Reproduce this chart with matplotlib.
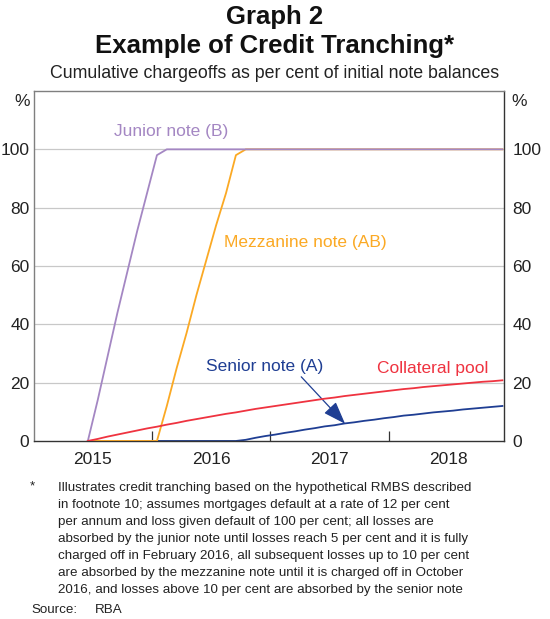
import numpy as np
import matplotlib
matplotlib.use('Agg')
import matplotlib.pyplot as plt
from matplotlib.ticker import FixedLocator, NullFormatter

plt.rcParams['font.family'] = ['Liberation Sans', 'DejaVu Sans']

# monthly observations, June 2015 .. December 2018
start_year, start_month = 2015, 6
n_months = 43

collateral = [0, 0.7, 1.5, 2.2, 2.9, 3.6, 4.3, 4.9, 5.6, 6.2, 6.9, 7.5, 8.1, 8.7,
              9.3, 9.8, 10.4, 11.0, 11.5, 12.0, 12.5, 13.0, 13.5, 14.0, 14.5, 14.9,
              15.4, 15.8, 16.2, 16.6, 17.0, 17.4, 17.8, 18.1, 18.5, 18.8, 19.1, 19.4,
              19.7, 20.0, 20.3, 20.5, 20.8]
junior = [0, 14, 29, 44, 58, 72, 85, 98] + [100] * 35
mezzanine = [0] * 8 + [12, 25, 37, 50, 62, 74, 85, 98] + [100] * 27
senior = [0] * 16 + [0.4, 1.1, 1.7, 2.2, 2.8, 3.3, 3.9, 4.4, 5.0, 5.4, 6.0, 6.4,
                     6.9, 7.3, 7.8, 8.2, 8.7, 9.0, 9.4, 9.8, 10.1, 10.4, 10.8,
                     11.1, 11.4, 11.7, 12.0]

years = [2015, 2016, 2017, 2018]
yticks = [0, 20, 40, 60, 80, 100]

# mid-month positions in fractional years
xx = np.array([start_year + (start_month - 1 + k + 0.5) / 12.0 for k in range(n_months)])

c_purple = '#A487C3'
c_orange = '#FBA924'
c_red = '#EF3340'
c_blue = '#1F3E93'
c_text = '#222222'
fs = 12.5

fig = plt.figure(figsize=(5.5, 6.19), dpi=100)
ax = fig.add_axes([0.061, 0.2876, 0.855, 0.5654])

ax.set_xlim(2015.0, 2018.97)
ax.set_ylim(0, 120)

for v in yticks[1:]:
    ax.axhline(v, color='#C8C8C8', lw=0.9, zorder=0)

ax.plot(xx, senior, color=c_blue, lw=1.3, zorder=2)
ax.plot(xx, mezzanine, color=c_orange, lw=1.3, zorder=3)
ax.plot(xx, junior, color=c_purple, lw=1.3, zorder=4)
ax.plot(xx, collateral, color=c_red, lw=1.3, zorder=5)

# axes frame
for s in ['left', 'top']:
    ax.spines[s].set_color('#7F7F7F')
for s in ['right', 'bottom']:
    ax.spines[s].set_color('#333333')
for s in ax.spines.values():
    s.set_linewidth(1.0)

ax.set_yticks(yticks)
ax.tick_params(axis='y', length=0, labelsize=fs, pad=3, colors=c_text)

# right hand labels sit a bit further from the frame
ax2 = ax.twinx()
ax2.set_ylim(0, 120)
ax2.set_yticks(yticks)
ax2.tick_params(axis='y', length=0, labelsize=fs, pad=6, colors=c_text)
for s in ax2.spines.values():
    s.set_visible(False)

ax.xaxis.set_major_locator(FixedLocator([y + 0.5 for y in years]))
ax.set_xticklabels([str(y) for y in years])
ax.xaxis.set_minor_locator(FixedLocator([2016, 2017, 2018]))
ax.xaxis.set_minor_formatter(NullFormatter())
ax.tick_params(axis='x', which='major', length=0, labelsize=fs, pad=8, colors=c_text)
ax.tick_params(axis='x', which='minor', direction='in', length=7, width=0.9, color='#333333')

ax.text(-0.007, 0.97, '%', transform=ax.transAxes, ha='right', va='center', fontsize=fs, color=c_text)
ax.text(1.016, 0.97, '%', transform=ax.transAxes, ha='left', va='center', fontsize=fs, color=c_text)

# series labels
ax.text(2016.16, 106.2, 'Junior note (B)', color=c_purple, fontsize=fs, ha='center', va='center')
ax.text(2016.61, 68.2, 'Mezzanine note (AB)', color=c_orange, fontsize=fs, ha='left', va='center')
ax.text(2017.90, 25.0, 'Collateral pool', color=c_red, fontsize=fs, ha='left', va='center')
ax.text(2016.46, 25.7, 'Senior note (A)', color=c_blue, fontsize=fs, ha='left', va='center')
ax.annotate('', xy=(2017.63, 5.9), xytext=(2017.26, 22.0),
            arrowprops=dict(arrowstyle='-|>,head_length=0.7,head_width=0.25', color=c_blue, lw=0.9,
                            mutation_scale=20, shrinkA=0, shrinkB=0))

# titles
fig.text(0.5, 1 - 17 / 619, 'Graph 2', ha='center', va='center', fontsize=18.5, fontweight='bold', color='#111111')
fig.text(0.5, 1 - 46 / 619, 'Example of Credit Tranching*', ha='center', va='center', fontsize=18.5, fontweight='bold', color='#111111')
fig.text(0.5, 1 - 74 / 619, 'Cumulative chargeoffs as per cent of initial note balances',
         ha='center', va='center', fontsize=12.8, color=c_text)

# footnote
notes = ['Illustrates credit tranching based on the hypothetical RMBS described',
         'in footnote 10; assumes mortgages default at a rate of 12 per cent',
         'per annum and loss given default of 100 per cent; all losses are',
         'absorbed by the junior note until losses reach 5 per cent and it is fully',
         'charged off in February 2016, all subsequent losses up to 10 per cent',
         'are absorbed by the mezzanine note until it is charged off in October',
         '2016, and losses above 10 per cent are absorbed by the senior note']
fig.text(30 / 550, 1 - 486 / 619, '*', ha='left', va='center', fontsize=9.6, color=c_text)
for i, line in enumerate(notes):
    fig.text(58 / 550, 1 - (488 + 17 * i) / 619, line, ha='left', va='center', fontsize=9.6, color=c_text)
fig.text(31 / 550, 1 - 610 / 619, 'Source:', ha='left', va='center', fontsize=9.6, color=c_text)
fig.text(95 / 550, 1 - 610 / 619, 'RBA', ha='left', va='center', fontsize=9.6, color=c_text)

fig.savefig('out.png', dpi=100)
